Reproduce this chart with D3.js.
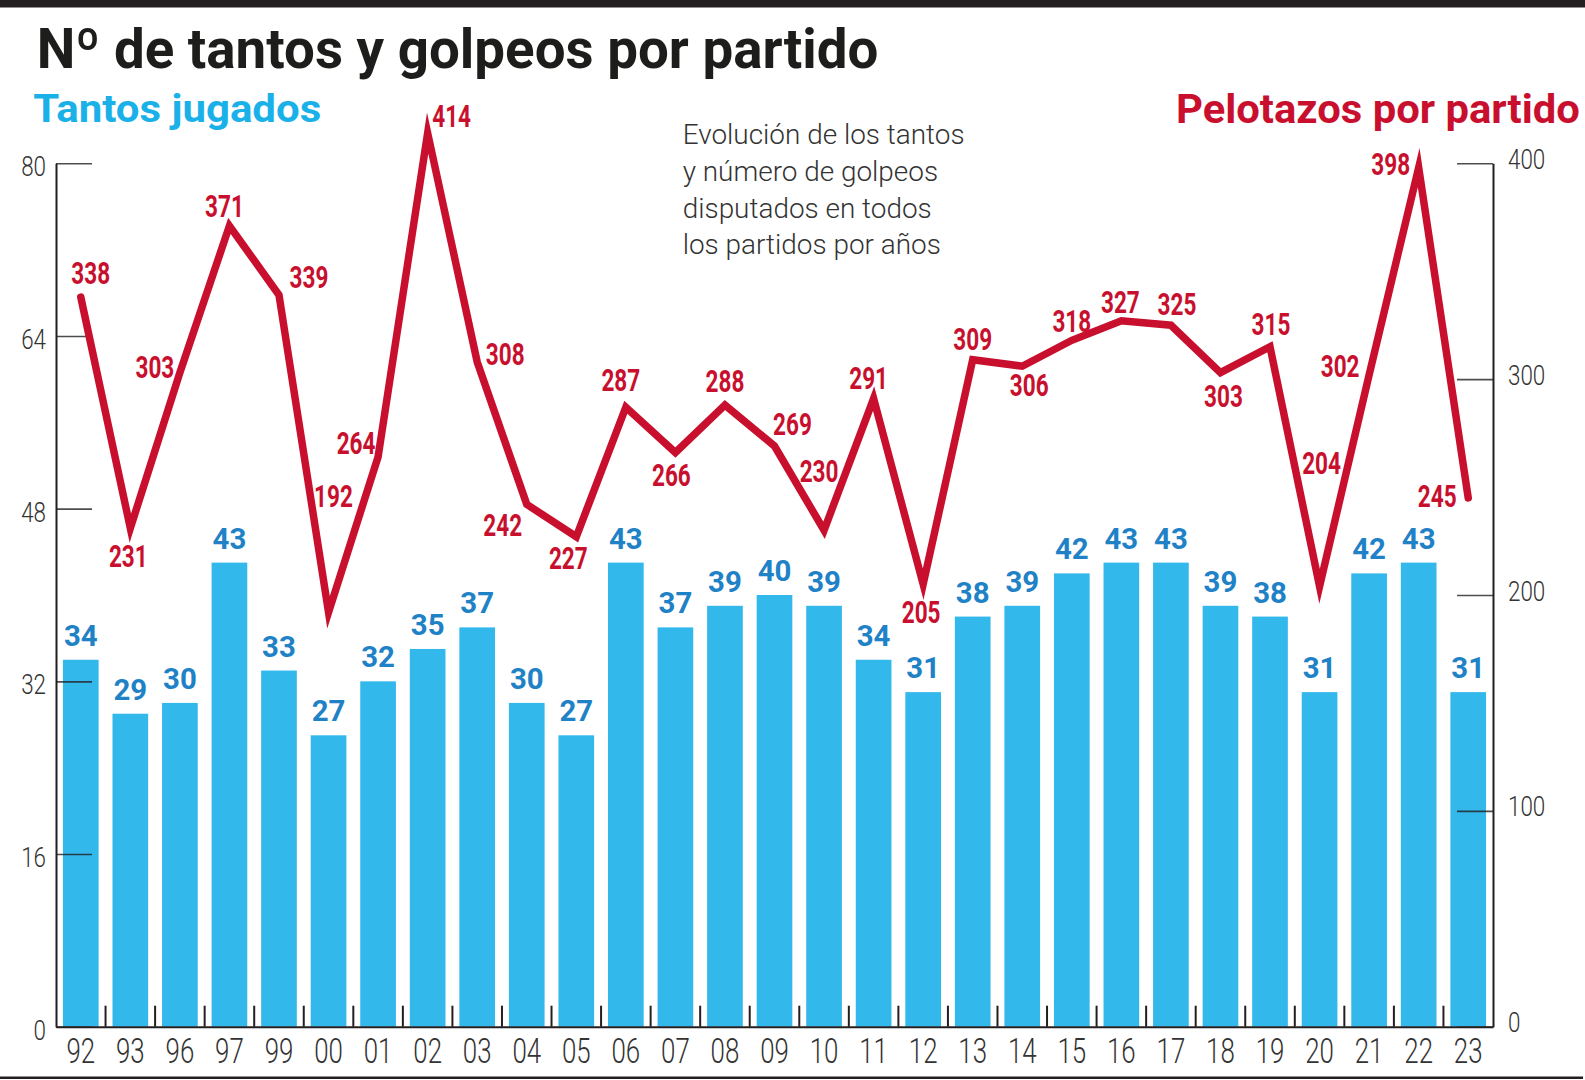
<!DOCTYPE html>
<html lang="es">
<head>
<meta charset="utf-8">
<title>Nº de tantos y golpeos por partido</title>
<script src="https://cdn.jsdelivr.net/npm/d3@7"></script>
<style>
  html, body { margin: 0; padding: 0; background: #fff; }
  svg { display: block; font-family: Roboto, "Noto Sans", sans-serif; }
</style>
</head>
<body>
<div id="chart"></div>
<script>
// temporadas (eje x)
const years = ['92','93','96','97','99','00','01','02','03','04','05','06','07','08','09','10',
  '11','12','13','14','15','16','17','18','19','20','21','22','23'];
// tantos jugados por partido (barras, eje izquierdo)
const tantos = [34,29,30,43,33,27,32,35,37,30,27,43,37,39,40,39,34,31,38,39,42,43,43,39,38,31,42,43,31];
// pelotazos por partido (línea, eje derecho)
const pelotazos = [338,231,303,371,339,192,264,414,308,242,227,287,266,288,269,230,291,205,309,306,
  318,327,325,303,315,204,302,398,245];
const leftTicks = [0,16,32,48,64,80];
const rightTicks = [0,100,200,300,400];
const noteLines = ['Evolución de los tantos','y número de golpeos','disputados en todos','los partidos por años'];

// dónde va cada etiqueta roja respecto a su punto (centro del texto)
const lineLabelShift = [[10,-24],[-2,28],[-25,-5],[-5,-20],[30,-18],[5,-116],[-22,-14],[24,-17],
  [28,-8],[-24,21],[-8,21],[-5,-27],[-4,23],[0,-24],[18,-22],[-5,-59],[-5,-20],[-2,28],[0,-21],
  [7,19],[0,-19],[-1,-19],[6,-21],[3,24],[1,-23],[2,-123],[-29,-9],[-28,-3],[-31,-2]];

const W = 1585, H = 1080;
const RED = '#c8102e', BAR = '#33b8ec', BLUE_TXT = '#1f82c6', CYAN = '#1ab0e8', INK = '#231f20';
const plot = { l: 56, r: 1493, t: 163.3, b: 1026.7 };

const svg = d3.select('#chart').append('svg')
  .attr('width', W).attr('height', H).attr('viewBox', [0, 0, W, H]);

// filetes de página
svg.append('rect').attr('x', 0).attr('y', 0).attr('width', W).attr('height', 7.5).attr('fill', INK);
svg.append('rect').attr('x', 0).attr('y', 1076.5).attr('width', 1583).attr('height', 2.5).attr('fill', INK);

// escalas
const x = d3.scaleBand().domain(years).range([plot.l, plot.r]).paddingInner(0.28).paddingOuter(0.14);
const yL = d3.scaleLinear().domain([0, 80]).range([plot.b, plot.t]);
const yR = d3.scaleLinear().domain([0, 400]).range([plot.b, plot.t]);
const bw = x.bandwidth();

// estrecha un texto horizontalmente (fuente condensada)
const squeeze = (sel, k) => sel.each(function () {
  const t = d3.select(this);
  const tx = +t.attr('x') || 0, ty = +t.attr('y') || 0;
  t.attr('x', null).attr('y', null)
    .attr('transform', `translate(${tx},${ty}) scale(${k},1)`);
});
const fitWidth = (sel, w) => {
  const n = sel.node().getComputedTextLength();
  squeeze(sel, w / n);
  return w / n;
};

// títulos
const title = svg.append('text').attr('x', 36.7).attr('y', 68.3)
  .attr('font-size', 56).attr('font-weight', 700).attr('fill', '#1d1d1b')
  .text('Nº de tantos y golpeos por partido');
fitWidth(title, 842);

const tj = svg.append('text').attr('x', 33.3).attr('y', 121.7)
  .attr('font-size', 39).attr('font-weight', 700).attr('fill', CYAN)
  .text('Tantos jugados');
fitWidth(tj, 288);

const pp = svg.append('text').attr('x', 1176).attr('y', 123)
  .attr('font-size', 40).attr('font-weight', 700).attr('fill', RED)
  .text('Pelotazos por partido');
fitWidth(pp, 404);

// nota
const note = svg.append('g').selectAll('text').data(noteLines).join('text')
  .attr('x', 682.7).attr('y', (d, i) => 144.3 + i * 36.7)
  .attr('font-size', 27).attr('font-weight', 300).attr('fill', '#333')
  .text(d => d);
const kNote = 282 / note.nodes()[0].getComputedTextLength();
squeeze(note, kNote);

// barras
svg.append('g').selectAll('rect').data(years).join('rect')
  .attr('x', d => x(d))
  .attr('y', (d, i) => yL(tantos[i]))
  .attr('width', bw)
  .attr('height', (d, i) => yL(0) - yL(tantos[i]))
  .attr('fill', BAR);

// eje izquierdo
const axL = svg.append('g').attr('transform', `translate(${plot.l},0)`)
  .call(d3.axisLeft(yL).tickValues(leftTicks).tickSize(-36).tickSizeOuter(0).tickPadding(9));
axL.select('.domain').attr('stroke', INK).attr('stroke-width', 2);
axL.selectAll('.tick line').attr('stroke', INK).attr('stroke-width', 1.6).attr('stroke-opacity', 0.8);
axL.selectAll('.tick text').attr('font-size', 28).attr('font-weight', 300).attr('fill', '#333')
  .attr('font-family', 'Roboto').attr('dy', null).attr('y', 12.5).attr('x', -10);
squeeze(axL.selectAll('.tick text'), 0.8);

// eje derecho
const axR = svg.append('g').attr('transform', `translate(${plot.r},0)`)
  .call(d3.axisRight(yR).tickValues(rightTicks).tickSize(-36).tickSizeOuter(0).tickPadding(15));
axR.select('.domain').attr('stroke', INK).attr('stroke-width', 2);
axR.selectAll('.tick line').attr('stroke', INK).attr('stroke-width', 1.6).attr('stroke-opacity', 0.8);
axR.selectAll('.tick text').attr('font-size', 28).attr('font-weight', 300).attr('fill', '#333')
  .attr('font-family', 'Roboto').attr('dy', null).attr('y', 5).attr('x', 15);
squeeze(axR.selectAll('.tick text'), 0.8);

// eje inferior
const axB = svg.append('g').attr('transform', `translate(0,${plot.b})`)
  .call(d3.axisBottom(x).tickSize(0).tickSizeOuter(0));
axB.select('.domain').attr('stroke', INK).attr('stroke-width', 2);
axB.selectAll('.tick text').attr('font-size', 35).attr('font-weight', 300).attr('fill', '#333')
  .attr('font-family', 'Roboto').attr('dy', null).attr('y', 36.3);
squeeze(axB.selectAll('.tick text'), 0.74);

// marcas entre temporadas
const gap = x.step() - bw;
svg.append('g').selectAll('line').data(years.slice(1)).join('line')
  .attr('x1', d => x(d) - gap / 2).attr('x2', d => x(d) - gap / 2)
  .attr('y1', plot.b).attr('y2', plot.b - 21)
  .attr('stroke', INK).attr('stroke-width', 2);

// valores de las barras
const barLabels = svg.append('g').selectAll('text').data(years).join('text')
  .attr('x', d => x(d) + bw / 2)
  .attr('y', (d, i) => yL(tantos[i]) - 14)
  .attr('text-anchor', 'middle')
  .attr('font-size', 30).attr('font-weight', 700).attr('fill', BLUE_TXT)
  .text((d, i) => tantos[i]);
squeeze(barLabels, 0.98);

// línea de pelotazos
const line = d3.line()
  .x((d, i) => x(years[i]) + bw / 2)
  .y(d => yR(d));
svg.append('path').datum(pelotazos)
  .attr('d', line)
  .attr('fill', 'none').attr('stroke', RED).attr('stroke-width', 7.5)
  .attr('stroke-linejoin', 'miter').attr('stroke-miterlimit', 12).attr('stroke-linecap', 'round');

// valores de la línea
const lineLabels = svg.append('g').selectAll('text').data(pelotazos).join('text')
  .attr('x', (d, i) => x(years[i]) + bw / 2 + lineLabelShift[i][0])
  .attr('y', (d, i) => yR(d) + lineLabelShift[i][1] + 10.8)
  .attr('text-anchor', 'middle')
  .attr('font-size', 30.5).attr('font-weight', 700).attr('fill', RED)
  .text(d => d);
squeeze(lineLabels, 0.74);
</script>
</body>
</html>
